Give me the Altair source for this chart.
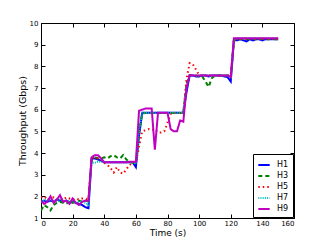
import altair as alt
import pandas as pd

t = list(range(0, 151, 2))

h1 = [1.75,1.8,1.75,1.8,1.75,1.85,1.8,1.75,1.8,1.7,1.75,1.7,1.65,1.6,1.5,1.45,
      3.75,3.75,3.7,3.65,3.57,3.57,3.57,3.57,3.57,3.57,3.57,3.57,3.57,3.57,
      3.35, 4.8,
      5.86,5.86,5.86,5.86,5.86,5.86,5.86,5.86,5.86,5.86,5.86,5.86,5.86,5.86,
      6.8,
      7.58,7.58,7.53,7.53,7.58,7.58,7.53,7.58,7.58,7.58,7.58,7.53,7.5,
      7.3, 9.2,
      9.2,9.25,9.2,9.15,9.25,9.2,9.25,9.25,9.2,9.25,9.25,9.25,9.25,9.25]
h3 = [1.35,1.6,1.5,1.35,1.6,1.7,1.75,1.7,1.65,1.8,1.7,1.75,1.8,1.75,1.8,1.8,
      3.7,3.8,3.75,3.75,3.8,3.75,3.85,3.9,3.8,3.75,3.9,3.7,3.6,3.55,
      3.55, 5.0,
      5.8,5.85,5.85,5.85,5.85,5.85,5.85,5.85,5.85,5.85,5.85,5.85,5.85,5.85,
      7.2,
      7.58,7.58,7.58,7.53,7.53,7.3,7.05,7.45,7.58,7.58,7.58,7.58,7.58,
      7.5, 9.2,
      9.25,9.25,9.27,9.25,9.25,9.27,9.25,9.25,9.27,9.25,9.25,9.27,9.25,9.25]
h5 = [1.95,2.0,1.85,1.9,1.95,1.85,1.9,1.85,1.95,1.9,1.85,1.9,1.85,1.9,1.9,1.85,
      3.75,3.8,3.75,3.7,3.55,3.45,3.3,3.1,3.35,3.1,3.05,3.25,3.45,3.55,
      3.55, 4.3,
      5.0,5.05,5.1,5.05,5.1,4.95,4.95,5.0,5.4,5.8,5.85,5.85,5.85,5.85,
      7.4,
      8.15,8.1,7.85,7.6,7.58,7.58,7.58,7.58,7.58,7.58,7.58,7.58,7.58,
      7.6, 9.2,
      9.27,9.27,9.27,9.27,9.27,9.27,9.27,9.27,9.27,9.27,9.27,9.27,9.27,9.27]
h7 = [1.75,1.8,1.85,1.8,1.8,1.75,1.85,1.8,1.8,1.75,1.8,1.7,1.75,1.75,1.7,1.6,
      3.55,3.55,3.6,3.6,3.57,3.57,3.57,3.57,3.57,3.57,3.57,3.57,3.57,3.57,
      3.5, 5.0,
      5.86,5.86,5.86,5.86,5.86,5.86,5.86,5.86,5.86,5.86,5.86,5.86,5.86,5.86,
      7.0,
      7.58,7.58,7.58,7.58,7.58,7.58,7.58,7.58,7.58,7.58,7.58,7.58,7.58,
      7.5, 9.25,
      9.3,9.3,9.3,9.3,9.3,9.3,9.3,9.3,9.3,9.3,9.3,9.3,9.3,9.3]
h9 = [1.8,1.65,1.75,2.0,1.7,1.85,2.05,1.75,1.8,1.65,1.9,1.7,1.6,1.75,1.8,1.8,
      3.8,3.9,3.9,3.75,3.57,3.57,3.57,3.57,3.57,3.57,3.57,3.57,3.6,3.6,
      3.6, 5.95,
      6.0,6.05,6.05,6.05,4.15,5.86,5.86,5.86,5.86,5.1,5.0,5.0,5.5,5.45,
      7.0,
      7.6,7.58,7.58,7.58,7.58,7.58,7.58,7.58,7.58,7.58,7.58,7.58,7.58,
      7.5, 9.3,
      9.3,9.3,9.3,9.3,9.3,9.3,9.3,9.3,9.3,9.3,9.3,9.3,9.3,9.3]

series_names = ["H1", "H3", "H5", "H7", "H9"]
series_values = [h1, h3, h5, h7, h9]
colors = ["#0000ff", "#008000", "#ff0000", "#00bfbf", "#bf00bf"]
dashes = [[1, 0], [4, 3], [1.5, 3], [1, 1.2], [1, 0]]
widths = [2, 2, 2, 1.8, 2.5]

x_ticks = [0, 20, 40, 60, 80, 100, 120, 140, 160]
y_ticks = [1, 2, 3, 4, 5, 6, 7, 8, 9, 10]

rows = []
for name, vals in zip(series_names, series_values):
    for ti, v in zip(t, vals):
        rows.append({"t": ti, "v": v, "series": name})
df = pd.DataFrame(rows)

xs = alt.Scale(domain=[0, 160], nice=False, zero=False)
ys = alt.Scale(domain=[1, 10], nice=False, zero=False)
FONT = "DejaVu Sans"

main = alt.Chart(df).mark_line(strokeCap="butt", clip=True).encode(
    x=alt.X("t:Q", scale=xs, axis=alt.Axis(
        values=x_ticks, title="Time (s)", ticks=False, domain=False, grid=False,
        labelFontSize=7, labelPadding=1, titleFontSize=9, titlePadding=2,
        titleFontWeight="normal", labelColor="black", titleColor="black",
        labelFont=FONT, titleFont=FONT)),
    y=alt.Y("v:Q", scale=ys, axis=alt.Axis(
        values=y_ticks, title="Throughput (Gbps)", ticks=False, domain=False, grid=False,
        labelFontSize=7, labelPadding=3, titleFontSize=9.5, titlePadding=2,
        titleFontWeight="normal", labelColor="black", titleColor="black",
        labelFont=FONT, titleFont=FONT)),
    color=alt.Color("series:N", scale=alt.Scale(domain=series_names, range=colors),
                    legend=alt.Legend(title=None, orient="bottom-right", offset=1,
                                      symbolType="stroke", symbolSize=130,
                                      labelFontSize=8, labelFont=FONT, labelColor="black",
                                      strokeColor="black", fillColor="white",
                                      padding=4, rowPadding=0, cornerRadius=0,
                                      labelOffset=6)),
    strokeDash=alt.StrokeDash("series:N", scale=alt.Scale(domain=series_names, range=dashes),
                              legend=alt.Legend(title=None, orient="bottom-right")),
    strokeWidth=alt.StrokeWidth("series:N", scale=alt.Scale(domain=series_names, range=widths),
                                legend=alt.Legend(title=None, orient="bottom-right")),
    order=alt.Order("t:Q"),
)

def tick_axis(orient, values):
    return alt.Axis(orient=orient, values=values, offset=-4, tickSize=4, labels=False,
                    domain=False, grid=False, title=None, tickColor="black", tickWidth=1)

ticks_bl = alt.Chart(df).mark_line(opacity=0).encode(
    x=alt.X("t:Q", scale=xs, axis=tick_axis("bottom", x_ticks)),
    y=alt.Y("v:Q", scale=ys, axis=tick_axis("left", y_ticks)),
    detail="series:N",
)
ticks_tr = alt.Chart(df).mark_line(opacity=0).encode(
    x=alt.X("t:Q", scale=xs, axis=tick_axis("top", x_ticks)),
    y=alt.Y("v:Q", scale=ys, axis=tick_axis("right", y_ticks)),
    detail="series:N",
)

chart = alt.layer(main, ticks_bl, ticks_tr).resolve_axis(
    x="independent", y="independent"
).properties(
    width=253, height=195,
    autosize=alt.AutoSizeParams(type="none"),
    padding={"left": 33, "top": 15, "right": 25, "bottom": 19},
    background="white",
).configure_view(stroke="black", strokeWidth=1)

chart.save("out.html", embed_options={"renderer": "svg", "actions": False})
